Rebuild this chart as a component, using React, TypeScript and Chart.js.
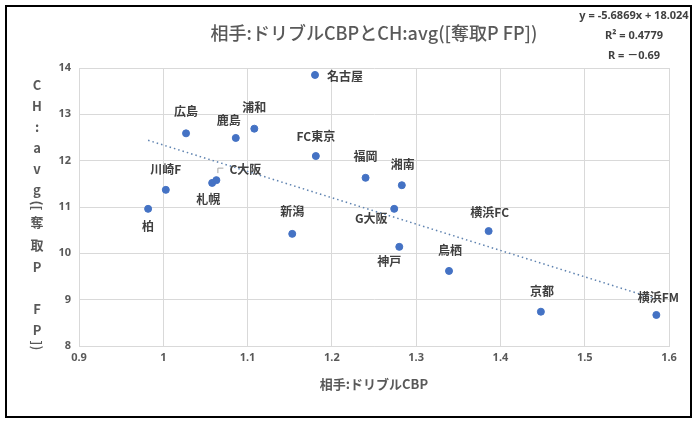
import React, { useEffect, useRef } from 'react';
import { Chart, registerables } from 'chart.js';

Chart.register(...registerables);

// ---- data ----
const teams = ['名古屋', '広島', '鹿島', '浦和', 'FC東京', '川崎F', '札幌', 'C大阪', '柏', '新潟', '福岡', '湘南', 'G大阪', '神戸', '横浜FC', '鳥栖', '京都', '横浜FM'];
const dribbleCBP = [1.180, 1.027, 1.086, 1.108, 1.181, 1.003, 1.058, 1.063, 0.982, 1.153, 1.240, 1.283, 1.274, 1.280, 1.386, 1.339, 1.448, 1.585];
const chAvg = [13.85, 12.59, 12.49, 12.69, 12.10, 11.37, 11.52, 11.58, 10.96, 10.42, 11.63, 11.47, 10.96, 10.14, 10.48, 9.62, 8.74, 8.67];
const xTicks = [0.9, 1, 1.1, 1.2, 1.3, 1.4, 1.5, 1.6];
const xTickLabels = ['0.9', '1', '1.1', '1.2', '1.3', '1.4', '1.5', '1.6'];
const yTicks = [8, 9, 10, 11, 12, 13, 14];
const yTickLabels = ['8', '9', '10', '11', '12', '13', '14'];
const trendSlope = -5.6869;
const trendIntercept = 18.024;
const statLines = ['y = -5.6869x + 18.024', 'R² = 0.4779', 'R = －0.69'];
const chartTitle = '相手:ドリブルCBPとCH:avg([奪取P FP])';
const xTitle = '相手:ドリブルCBP';
const yTitle = 'CH:avg([奪取P FP])';

// ---- label layout (offset from the point, alignment) ----
const labelLayout: [number, number, CanvasTextAlign][] = [
  [12, 1, 'left'], [0, -22, 'center'], [-7, -18, 'center'], [0, -21, 'center'],
  [0, -20, 'center'], [0, -20, 'center'], [-4, 17, 'center'], [13, -11, 'left'],
  [0, 18, 'center'], [0, -22, 'center'], [0, -21, 'center'], [1, -21, 'center'],
  [-23, 10, 'center'], [-10, 15, 'center'], [1, -19, 'center'], [1, -21, 'center'],
  [1, -20, 'center'], [2, -18, 'center'],
];

const GRID = '#d9d9d9';
const TEXT = '#595959';

const decorPlugin = {
  id: 'decor',
  beforeDraw(chart: any) {
    const ctx = chart.ctx;
    ctx.save();
    ctx.fillStyle = '#ffffff';
    ctx.fillRect(0, 0, chart.width, chart.height);
    ctx.restore();
  },
  afterDraw(chart: any) {
    const ctx = chart.ctx;
    const area = chart.chartArea;
    const cx = (area.left + area.right) / 2;
    ctx.save();
    // frame
    ctx.strokeStyle = '#000000';
    ctx.lineWidth = 2;
    ctx.strokeRect(6, 6, chart.width - 15, chart.height - 11);

    // title
    ctx.fillStyle = TEXT;
    ctx.textAlign = 'center';
    ctx.textBaseline = 'middle';
    ctx.font = '500 18px "Noto Sans CJK JP", "Noto Sans", sans-serif';
    ctx.fillText(chartTitle, cx, 33);

    // stats
    ctx.fillStyle = '#404040';
    ctx.font = 'bold 11px "Noto Sans", "Noto Sans CJK JP", sans-serif';
    statLines.forEach((s, i) => ctx.fillText(s, 634, 16 + i * 20));

    // x title
    ctx.fillStyle = TEXT;
    ctx.font = 'bold 13px "Noto Sans CJK JP", "Noto Sans", sans-serif';
    ctx.fillText(xTitle, cx, 384);

    // y title, stacked
    ctx.font = 'bold 13px "Noto Sans CJK JP", "Noto Sans", sans-serif';
    let cur = 74.5;
    const x0 = 37;
    for (const ch of Array.from(yTitle)) {
      const isBracket = '()[]'.includes(ch);
      const isCJK = /[\u3000-\u9fff]/.test(ch);
      const h = isBracket ? 5 : isCJK ? 23 : 21;
      const yc = cur + h / 2;
      if (ch !== ' ') {
        if (isBracket) {
          ctx.save();
          ctx.translate(x0, yc);
          ctx.rotate(Math.PI / 2);
          ctx.fillText(ch, 0, 0);
          ctx.restore();
        } else {
          ctx.fillText(ch, x0, yc);
        }
      }
      cur += h;
    }

    // data labels
    const meta = chart.getDatasetMeta(0);
    ctx.font = 'bold 12px "Noto Sans CJK JP", "Noto Sans", sans-serif';
    ctx.fillStyle = '#404040';
    meta.data.forEach((el: any, i: number) => {
      const [dx, dy, align] = labelLayout[i];
      ctx.textAlign = align;
      ctx.fillText(teams[i], el.x + dx, el.y + dy);
      if (teams[i] === 'C大阪') {
        ctx.save();
        ctx.strokeStyle = '#a6a6a6';
        ctx.lineWidth = 1;
        ctx.beginPath();
        ctx.moveTo(el.x + 1.5, el.y - 7);
        ctx.lineTo(el.x + 1.5, el.y - 12);
        ctx.lineTo(el.x + 7, el.y - 12);
        ctx.stroke();
        ctx.restore();
      }
    });
    ctx.restore();
  },
};

export default function App() {
  const ref = useRef<HTMLCanvasElement | null>(null);
  useEffect(() => {
    document.body.style.margin = '0';
    if (!ref.current) return;
    const points = dribbleCBP.map((x, i) => ({ x, y: chAvg[i] }));
    const minX = Math.min(...dribbleCBP);
    const maxX = Math.max(...dribbleCBP);
    const trend = [minX, maxX].map((x) => ({ x, y: trendSlope * x + trendIntercept }));
    const tickFont = { family: '"Noto Sans", sans-serif', size: 11, weight: 'bold' as const };
    const chart = new Chart(ref.current, {
      type: 'scatter',
      data: {
        datasets: [
          {
            data: points,
            backgroundColor: '#4472c4',
            borderColor: '#4472c4',
            pointRadius: 3.5,
            pointHoverRadius: 3.5,
          },
          {
            data: trend,
            showLine: true,
            borderColor: '#5f83b0',
            borderWidth: 1.5,
            borderDash: [1.5, 3],
            pointRadius: 0,
            fill: false,
          } as any,
        ],
      },
      plugins: [decorPlugin],
      options: {
        animation: false,
        responsive: true,
        maintainAspectRatio: false,
        layout: { padding: { left: 0, right: 31, top: 68, bottom: 0 } },
        plugins: { legend: { display: false }, tooltip: { enabled: false }, title: { display: false } },
        scales: {
          x: {
            type: 'linear',
            min: 0.9,
            max: 1.6,
            afterBuildTicks: (s: any) => { s.ticks = xTicks.map((v) => ({ value: v })); },
            afterFit: (s: any) => { s.height = 76; },
            ticks: {
              color: TEXT,
              font: tickFont,
              padding: 5,
              maxRotation: 0,
              callback: (v: any) => xTickLabels[xTicks.findIndex((t) => Math.abs(t - v) < 1e-6)] ?? '',
            },
            grid: { color: GRID, drawTicks: false, lineWidth: 1 },
            border: { color: GRID, width: 1 },
          },
          y: {
            type: 'linear',
            min: 8,
            max: 14,
            afterBuildTicks: (s: any) => { s.ticks = yTicks.map((v) => ({ value: v })); },
            afterFit: (s: any) => { s.width = 79; },
            ticks: {
              color: TEXT,
              font: tickFont,
              padding: 8,
              callback: (v: any) => yTickLabels[yTicks.findIndex((t) => Math.abs(t - v) < 1e-6)] ?? '',
            },
            grid: { color: GRID, drawTicks: false, lineWidth: 1 },
            border: { color: GRID, width: 1 },
          },
        },
      },
    });
    return () => chart.destroy();
  }, []);
  return (
    <div style={{ width: 700, height: 422, position: 'relative' }}>
      <canvas ref={ref} />
    </div>
  );
}
